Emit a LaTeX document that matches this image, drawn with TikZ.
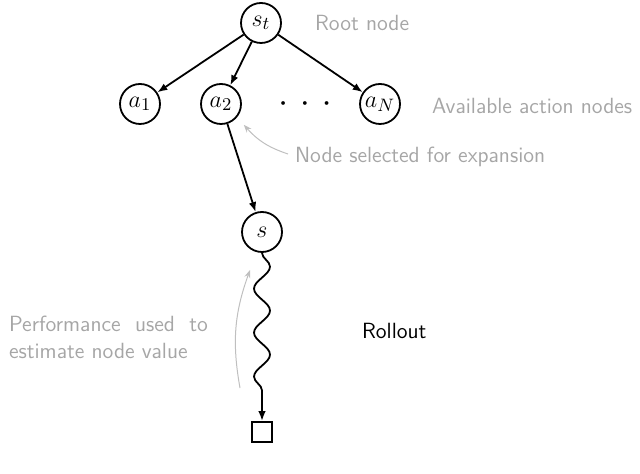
\documentclass[tikz,border=0pt]{standalone}
\usetikzlibrary{decorations.pathmorphing,arrows.meta}
\begin{document}
\begin{tikzpicture}[x=0.5pt,y=-0.5pt,
  every node/.style={font=\fontsize{11}{13.5}\selectfont},
  st/.style={circle,draw,line width=0.9pt,minimum size=20pt,inner sep=0pt,font=\fontsize{13}{15}\selectfont},
  edge/.style={-{Latex[length=5pt]},line width=0.9pt},
  note/.style={gray!70,font=\fontsize{11}{13.5}\selectfont\sffamily,anchor=west},
  hint/.style={-{Stealth[length=4pt]},gray!50,line width=0.5pt}]
\useasboundingbox (0,0) rectangle (640,474);
\node[st] (st) at (261,23) {$s_t$};
\node[st] (a1) at (140,104) {$a_1$};
\node[st] (a2) at (221,104) {$a_2$};
\node[font=\fontsize{13}{15}\selectfont\boldmath] (dots) at (305,104) {$\cdot\hspace{4pt}\cdot\hspace{4pt}\cdot$};
\node[st] (aN) at (380,104) {$a_N$};
\node[st] (s) at (262,232) {$s$};
\node[draw,line width=0.9pt,minimum size=10pt,inner sep=0pt] (leaf) at (262,432) {};
\draw[edge] (st) -- (a1);
\draw[edge] (st) -- (a2);
\draw[edge] (st) -- (aN);
\draw[edge] (a2) -- (s);
\draw[edge,decorate,decoration={snake,amplitude=4pt,segment length=22pt,post length=8pt}] (s) -- (leaf);
\node[note] (root) at (308,23) {Root node};
\node[note] (avail) at (425,106) {Available action nodes};
\node[note] (sel) at (288,157) {Node selected for expansion};
\node[font=\fontsize{11}{13.5}\selectfont\sffamily,anchor=west] (roll) at (355,331) {Rollout};
\node[note,align=left] (perf) at (2,337) {Performance\ \ used\ \ to\\estimate node value};
\draw[hint] (sel.west) ++(0,-3) coordinate (h1) to[bend left=15] ([shift={(8,6)}]a2.south east);
\coordinate (p1) at (240,388);
\coordinate (p2) at (250,270);
\draw[hint] (p1) to[bend left=15] (p2);
\end{tikzpicture}
\end{document}
